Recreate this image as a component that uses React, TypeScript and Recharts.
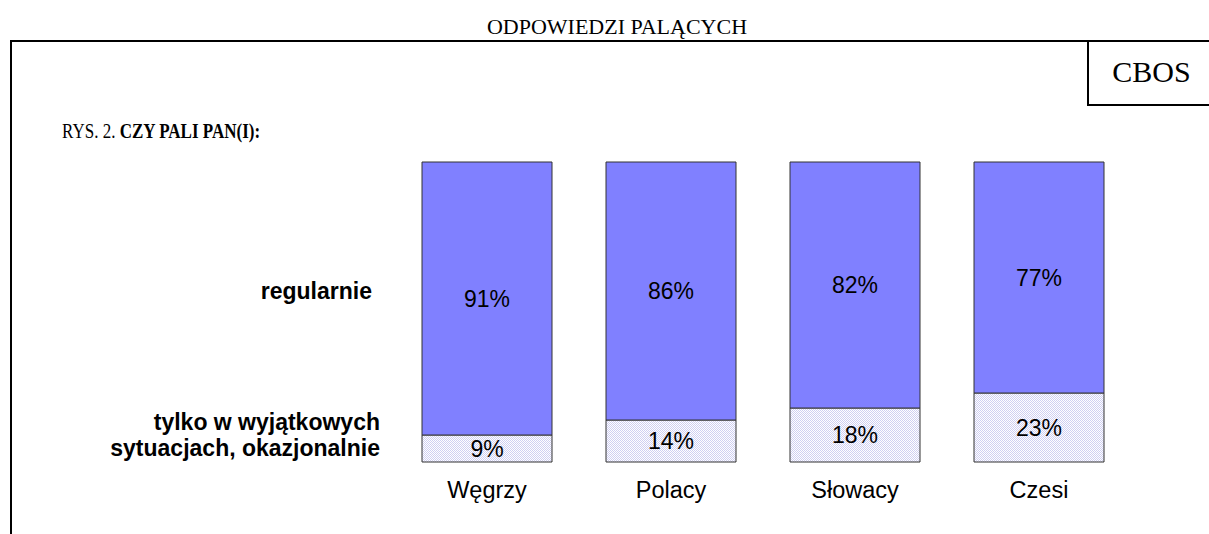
import React from 'react';
import { BarChart, Bar, XAxis, YAxis, LabelList } from 'recharts';

const categories = ['Węgrzy', 'Polacy', 'Słowacy', 'Czesi'];
const occasional = [9, 14, 18, 23];
const regular = [91, 86, 82, 77];

const data = categories.map((c, i) => ({ name: c, occasional: occasional[i], regular: regular[i] }));

const sans = 'Arial, "Liberation Sans", Helvetica, sans-serif';
const serif = '"Times New Roman", "Liberation Serif", serif';

const CatTick = (props: any) => {
  const { x, y, payload } = props;
  return (
    <text x={x} y={y + 20} textAnchor="middle" dominantBaseline="central" fontFamily={sans} fontSize={23.5} fill="#000">
      {payload.value}
    </text>
  );
};

const fmt = (v: any) => `${v}%`;

export default function App() {
  return (
    <div style={{ position: 'absolute', left: 0, top: 0, width: 1209, height: 534, background: '#fff', overflow: 'hidden' }}>
      {/* frame */}
      <div style={{ position: 'absolute', left: 10, top: 40, width: 1199, height: 2, background: '#000' }} />
      <div style={{ position: 'absolute', left: 10, top: 40, width: 2, height: 494, background: '#000' }} />
      <div style={{ position: 'absolute', left: 1087, top: 40, width: 2, height: 66, background: '#000' }} />
      <div style={{ position: 'absolute', left: 1087, top: 104, width: 122, height: 2, background: '#000' }} />

      <div style={{ position: 'absolute', left: 417, top: 14, width: 400, height: 26, display: 'flex', alignItems: 'center', justifyContent: 'center', fontFamily: serif, fontSize: 22, color: '#000', whiteSpace: 'nowrap' }}>
        ODPOWIEDZI PALĄCYCH
      </div>
      <div style={{ position: 'absolute', left: 1092, top: 52, width: 119, height: 40, display: 'flex', alignItems: 'center', justifyContent: 'center', fontFamily: serif, fontSize: 30, color: '#000', whiteSpace: 'nowrap' }}>
        CBOS
      </div>
      <div style={{ position: 'absolute', left: 62, top: 117, height: 28, display: 'flex', alignItems: 'center', fontFamily: serif, fontSize: 21, color: '#000', whiteSpace: 'nowrap', transform: 'scaleX(0.81)', transformOrigin: 'left center' }}>
        RYS. 2.&nbsp;<b>CZY PALI PAN(I):</b>
      </div>
      <div style={{ position: 'absolute', left: 100, top: 276, width: 272, height: 30, display: 'flex', alignItems: 'center', justifyContent: 'flex-end', fontFamily: sans, fontWeight: 'bold', fontSize: 23, color: '#000', whiteSpace: 'nowrap' }}>
        regularnie
      </div>
      <div style={{ position: 'absolute', left: 40, top: 409, width: 340, height: 54, fontFamily: sans, fontWeight: 'bold', fontSize: 23, lineHeight: '26px', textAlign: 'right', color: '#000', whiteSpace: 'nowrap' }}>
        tylko w wyjątkowych<br />sytuacjach, okazjonalnie
      </div>

      <div style={{ position: 'absolute', left: 0, top: 0 }}>
        <BarChart width={1209} height={534} data={data} margin={{ top: 162, right: 78, bottom: 0, left: 395 }} barSize={130}>
          <defs>
            <pattern id="dots" width="2" height="2" patternUnits="userSpaceOnUse">
              <rect x="0" y="0" width="2" height="2" fill="#ffffff" />
              <rect x="0" y="0" width="1" height="1" fill="#cfcff2" />
              <rect x="1" y="1" width="1" height="1" fill="#cfcff2" />
            </pattern>
          </defs>
          <XAxis dataKey="name" axisLine={false} tickLine={false} height={72} tick={<CatTick />} interval={0} />
          <YAxis hide domain={[0, 100]} width={0} />
          <Bar dataKey="occasional" stackId="a" fill="url(#dots)" stroke="#333" strokeWidth={1} isAnimationActive={false}>
            <LabelList dataKey="occasional" position="center" formatter={fmt} fill="#000" fontFamily={sans} fontSize={23} />
          </Bar>
          <Bar dataKey="regular" stackId="a" fill="#8080ff" stroke="#333" strokeWidth={1} isAnimationActive={false}>
            <LabelList dataKey="regular" position="center" formatter={fmt} fill="#000" fontFamily={sans} fontSize={23} />
          </Bar>
        </BarChart>
      </div>
    </div>
  );
}
